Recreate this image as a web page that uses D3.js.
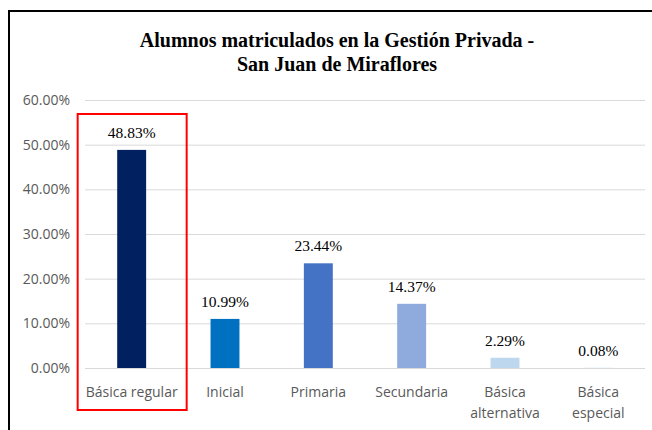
<!DOCTYPE html>
<html>
<head>
<meta charset="utf-8">
<script src="https://cdn.jsdelivr.net/npm/d3@7"></script>
<style>
  html, body { margin: 0; padding: 0; background: #fff; }
  svg { display: block; }
</style>
</head>
<body>
<div id="chart"></div>
<script>
// Matrícula por nivel educativo, gestión privada (porcentaje del total)
const categories = ["Básica regular", "Inicial", "Primaria", "Secundaria", "Básica alternativa", "Básica especial"];
const categoryLines = [["Básica regular"], ["Inicial"], ["Primaria"], ["Secundaria"], ["Básica", "alternativa"], ["Básica", "especial"]];
const values = [48.83, 10.99, 23.44, 14.37, 2.29, 0.08];
const barColors = ["#002060", "#0070C0", "#4472C4", "#8FAADC", "#BDD7EE", "#DEEBF7"];
const yTicks = [0, 10, 20, 30, 40, 50, 60];
const titleLines = ["Alumnos matriculados en la Gestión Privada -", "San Juan de Miraflores"];
const highlighted = "Básica regular";

const W = 652, H = 430;
const plot = { left: 85, right: 645, top: 100, bottom: 368 };

const svg = d3.select("#chart").append("svg")
  .attr("width", W).attr("height", H);

// chart frame (top and left edges visible)
svg.append("path")
  .attr("d", `M9,${H} L9,11 L${W},11`)
  .attr("fill", "none").attr("stroke", "#000").attr("stroke-width", 2);

const x = d3.scaleBand().domain(categories).range([plot.left, plot.right]).paddingInner(0.69).paddingOuter(0.345);
const y = d3.scaleLinear().domain([0, 60]).range([plot.bottom, plot.top]);

// title
svg.append("text")
  .attr("x", 337).attr("y", 47)
  .attr("text-anchor", "middle")
  .attr("font-family", "'Liberation Serif', 'Times New Roman', serif")
  .attr("font-weight", "bold").attr("font-size", 20)
  .selectAll("tspan").data(titleLines).join("tspan")
  .attr("x", 337).attr("dy", (d, i) => i === 0 ? 0 : 24)
  .text(d => d);

// gridlines + y labels
const yAxis = d3.axisLeft(y).tickValues(yTicks).tickSize(-(plot.right - plot.left)).tickPadding(15)
  .tickFormat(d => d3.format(".2f")(d) + "%");
const gy = svg.append("g").attr("transform", `translate(${plot.left},0)`).call(yAxis);
gy.select(".domain").remove();
gy.selectAll(".tick line").attr("stroke", "#D9D9D9").attr("stroke-width", 1);
gy.selectAll(".tick text")
  .attr("fill", "#595959")
  .attr("font-family", "'Open Sans', 'Noto Sans', sans-serif")
  .attr("font-size", 14);

// bars
svg.append("g").selectAll("rect").data(values).join("rect")
  .attr("x", (d, i) => x(categories[i]))
  .attr("width", x.bandwidth())
  .attr("y", d => y(d))
  .attr("height", d => y(0) - y(d))
  .attr("fill", (d, i) => barColors[i]);

// value labels
svg.append("g").selectAll("text").data(values).join("text")
  .attr("x", (d, i) => x(categories[i]) + x.bandwidth() / 2)
  .attr("y", d => y(d) - 12)
  .attr("text-anchor", "middle")
  .attr("font-family", "'Liberation Serif', 'Times New Roman', serif")
  .attr("font-size", 15.5)
  .attr("fill", "#000")
  .text(d => d3.format(".2f")(d) + "%");

// category labels
const gx = svg.append("g");
categories.forEach((c, i) => {
  const t = gx.append("text")
    .attr("x", x(c) + x.bandwidth() / 2)
    .attr("y", 397)
    .attr("text-anchor", "middle")
    .attr("fill", "#595959")
    .attr("font-family", "'Open Sans', 'Noto Sans', sans-serif")
    .attr("font-size", 14);
  t.selectAll("tspan").data(categoryLines[i]).join("tspan")
    .attr("x", x(c) + x.bandwidth() / 2)
    .attr("dy", (d, j) => j === 0 ? 0 : 21)
    .text(d => d);
});

// highlight box around the main category
const hx = x(highlighted) + x.bandwidth() / 2;
svg.append("rect")
  .attr("x", hx - 54).attr("y", 114)
  .attr("width", 109).attr("height", 296)
  .attr("fill", "none").attr("stroke", "#FF0000").attr("stroke-width", 2);
</script>
</body>
</html>
